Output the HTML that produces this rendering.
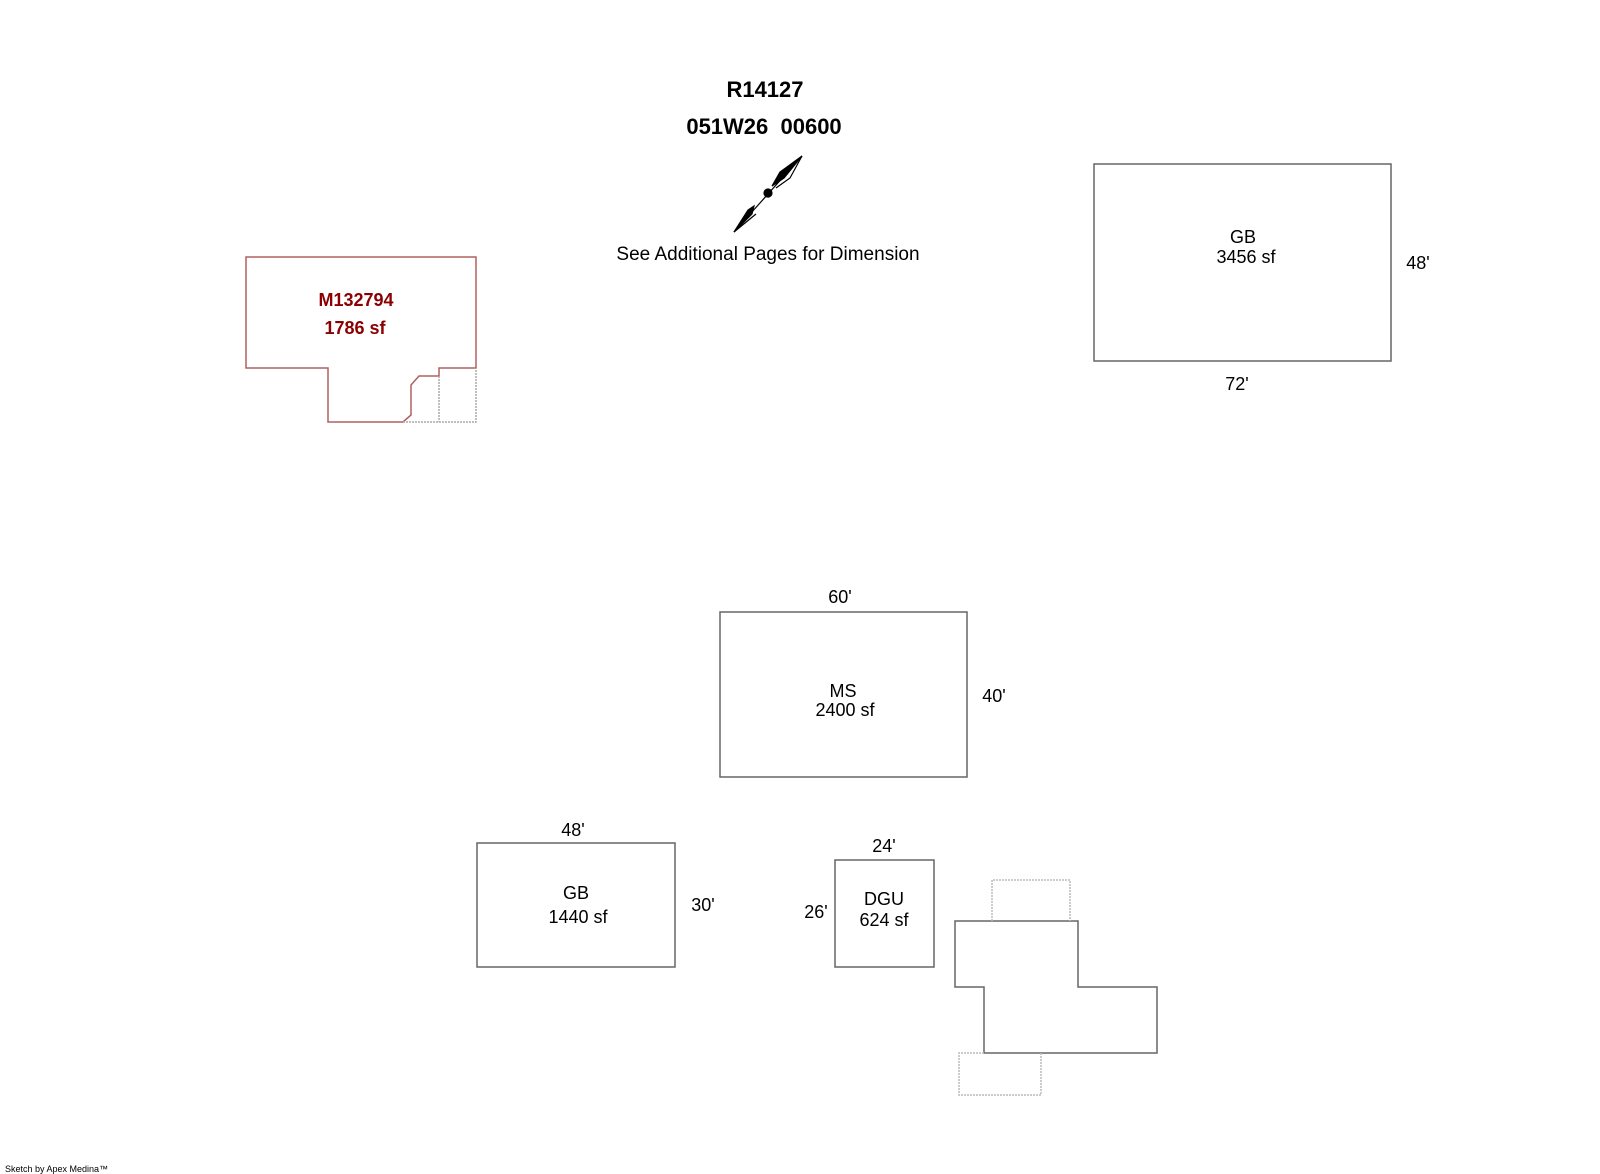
<!DOCTYPE html>
<html><head><meta charset="utf-8"><style>
html,body{margin:0;padding:0;background:#fff;}
svg{display:block;}
text{font-family:"Liberation Sans",Arial,sans-serif;}
</style></head><body>
<svg width="1600" height="1174" viewBox="0 0 1600 1174" xmlns="http://www.w3.org/2000/svg">
<g text-anchor="middle" fill="#000">
<text x="765" y="97" font-size="22" font-weight="bold">R14127</text>
<text x="764" y="134" font-size="22" font-weight="bold" xml:space="preserve">051W26  00600</text>
<text x="768" y="260" font-size="19">See Additional Pages for Dimension</text>
</g>
<g stroke="#000" fill="none" stroke-width="1.2">
<line x1="734" y1="232" x2="802" y2="156"/>
<path d="M802 156 L780 172 L772 186 L784 178 Z" fill="#000"/>
<path d="M802 156 L790 178 L776 188" />
<path d="M734 232 L748 210 L754 206 L752 214 Z" fill="#000"/>
<path d="M734 232 L756 214" />
<circle cx="768" cy="193" r="4" fill="#000"/>
</g>
<g fill="none" stroke-width="1.5">
<path d="M403 422 L328 422 L328 368 L246 368 L246 257 L476 257 L476 368 L439 368 L439 376 L419 376 L411 385 L411 415 Z" stroke="#b06060"/>
<path d="M403 422 L476 422 L476 368 M439 376 L439 422" stroke="#aaa" stroke-dasharray="2,1"/>
</g>
<g text-anchor="middle" fill="#8b0000" font-size="18" font-weight="bold">
<text x="356" y="306">M132794</text>
<text x="355" y="334">1786 sf</text>
</g>
<g fill="none" stroke="#666" stroke-width="1.5">
<rect x="1094" y="164" width="297" height="197"/>
<rect x="720" y="612" width="247" height="165"/>
<rect x="477" y="843" width="198" height="124"/>
<rect x="835" y="860" width="99" height="107"/>
<path d="M955 921 L1078 921 L1078 987 L1157 987 L1157 1053 L984 1053 L984 987 L955 987 Z"/>
</g>
<g fill="none" stroke="#bbb" stroke-width="1.5" stroke-dasharray="2,1">
<path d="M992 921 L992 880 L1070 880 L1070 921"/>
<path d="M984 1053 L959 1053 L959 1095 L1041 1095 L1041 1053"/>
</g>
<g text-anchor="middle" fill="#000" font-size="18">
<text x="1243" y="243">GB</text>
<text x="1246" y="263">3456 sf</text>
<text x="1418" y="269">48'</text>
<text x="1237" y="390">72'</text>
<text x="840" y="603">60'</text>
<text x="843" y="697">MS</text>
<text x="845" y="716">2400 sf</text>
<text x="994" y="702">40'</text>
<text x="573" y="836">48'</text>
<text x="576" y="899">GB</text>
<text x="578" y="923">1440 sf</text>
<text x="703" y="911">30'</text>
<text x="884" y="852">24'</text>
<text x="884" y="905">DGU</text>
<text x="884" y="926">624 sf</text>
<text x="816" y="918">26'</text>
</g>
<text x="5" y="1172" font-size="9" fill="#000">Sketch by Apex Medina™</text>
</svg>
</body></html>
